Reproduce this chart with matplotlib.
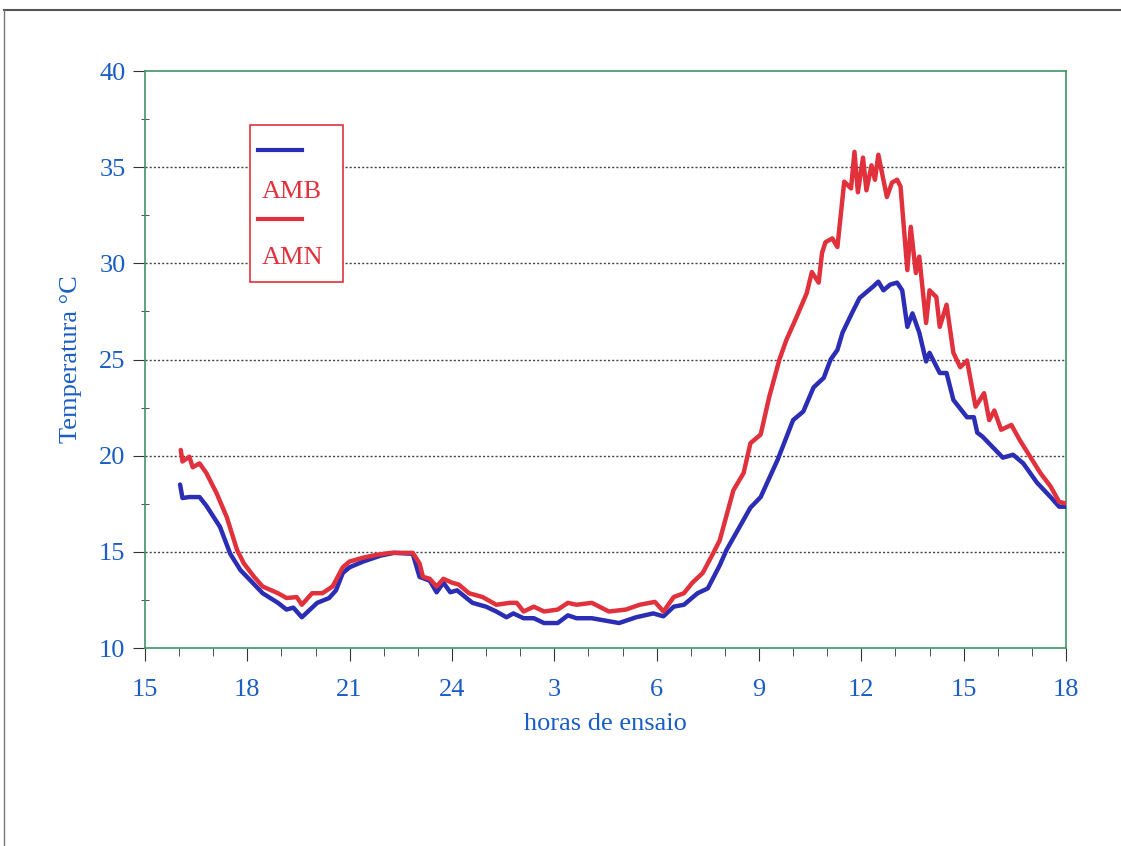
import numpy as np
import matplotlib.pyplot as plt
from matplotlib.lines import Line2D
from matplotlib.patches import Rectangle
from matplotlib.ticker import MultipleLocator

plt.rcParams['font.family'] = ['Liberation Serif', 'DejaVu Serif']

# hours since midnight of first day (15 -> 42 = 18h next day)
hours_amb = [16.03, 16.1, 16.3, 16.6, 16.8, 17.2, 17.5, 17.8, 18.1, 18.45, 18.9, 19.15, 19.35, 19.6,
             20.05, 20.4, 20.6, 20.8, 21.0, 21.4, 21.9, 22.3, 22.85, 23.05, 23.35, 23.55, 23.75, 23.95,
             24.15, 24.6, 25.0, 25.3, 25.6, 25.8, 26.1, 26.4, 26.7, 27.1, 27.4, 27.65, 28.1, 28.9,
             29.4, 29.9, 30.2, 30.5, 30.8, 31.2, 31.5, 31.85, 32.05, 32.75, 33.05, 33.55, 34.0, 34.3,
             34.6, 34.9, 35.1, 35.3, 35.45, 35.75, 35.95, 36.15, 36.35, 36.5, 36.65, 36.85, 37.05,
             37.2, 37.35, 37.5, 37.7, 37.9, 38.0, 38.3, 38.5, 38.7, 39.1, 39.3, 39.4, 39.55, 39.85,
             40.15, 40.45, 40.75, 41.15, 41.55, 41.8, 42.0]
temp_amb = [18.5, 17.8, 17.85, 17.85, 17.4, 16.3, 14.9, 14.05, 13.5, 12.85, 12.35, 12.0, 12.1, 11.6,
            12.35, 12.6, 13.0, 13.9, 14.2, 14.5, 14.8, 14.95, 14.9, 13.7, 13.5, 12.9, 13.4, 12.9,
            13.0, 12.35, 12.15, 11.9, 11.6, 11.8, 11.55, 11.55, 11.3, 11.3, 11.7, 11.55, 11.55, 11.3,
            11.6, 11.8, 11.65, 12.15, 12.25, 12.85, 13.1, 14.3, 15.1, 17.3, 17.85, 19.8, 21.85, 22.3,
            23.55, 24.05, 25.0, 25.5, 26.4, 27.5, 28.2, 28.5, 28.8, 29.05, 28.6, 28.9, 29.0,
            28.6, 26.7, 27.4, 26.4, 24.9, 25.35, 24.3, 24.3, 22.9, 22.0, 22.0, 21.2, 21.0, 20.45,
            19.9, 20.05, 19.6, 18.6, 17.85, 17.35, 17.35]

hours_amn = [16.05, 16.1, 16.3, 16.4, 16.6, 16.8, 17.1, 17.4, 17.7, 17.9, 18.2, 18.45, 18.9, 19.15,
             19.45, 19.6, 19.9, 20.2, 20.5, 20.8, 21.0, 21.4, 21.8, 22.2, 22.85, 23.05, 23.15, 23.35,
             23.55, 23.75, 24.0, 24.2, 24.5, 24.9, 25.3, 25.7, 25.9, 26.1, 26.4, 26.7, 27.1, 27.4,
             27.65, 28.1, 28.6, 29.1, 29.5, 29.95, 30.2, 30.5, 30.8, 31.05, 31.35, 31.65, 31.85,
             32.25, 32.55, 32.75, 33.05, 33.3, 33.6, 33.8, 34.1, 34.4, 34.55, 34.75, 34.85, 34.95,
             35.15, 35.3, 35.5, 35.7, 35.8, 35.9, 36.05, 36.15, 36.3, 36.4, 36.5, 36.75, 36.9, 37.05,
             37.15, 37.35, 37.45, 37.6, 37.7, 37.9, 38.0, 38.2, 38.3, 38.5, 38.7, 38.9, 39.1, 39.35,
             39.6, 39.75, 39.9, 40.1, 40.4, 40.65, 40.95, 41.25, 41.55, 41.8, 42.05]
temp_amn = [20.3, 19.7, 19.95, 19.4, 19.6, 19.1, 18.05, 16.8, 15.1, 14.4, 13.7, 13.2, 12.85, 12.6,
            12.65, 12.25, 12.85, 12.85, 13.2, 14.2, 14.5, 14.7, 14.85, 14.95, 14.95, 14.4, 13.7, 13.6,
            13.2, 13.6, 13.4, 13.3, 12.85, 12.65, 12.25, 12.35, 12.35, 11.9, 12.15, 11.9, 12.0, 12.35,
            12.25, 12.35, 11.9, 12.0, 12.25, 12.4, 11.9, 12.65, 12.85, 13.4, 13.9, 14.9, 15.6,
            18.2, 19.1, 20.65, 21.1, 23.05, 25.0, 26.0, 27.2, 28.45, 29.55, 29.0, 30.55, 31.1,
            31.3, 30.85, 34.25, 33.9, 35.8, 33.7, 35.5, 33.8, 35.1, 34.35, 35.65, 33.45, 34.2, 34.35,
            34.0, 29.65, 31.9, 29.5, 30.35, 26.9, 28.6, 28.25, 26.7, 27.85, 25.35, 24.6, 24.95, 22.55,
            23.25, 21.85, 22.35, 21.35, 21.6, 20.8, 19.95, 19.1, 18.4, 17.6, 17.5]

xtick_pos = [15, 18, 21, 24, 27, 30, 33, 36, 39, 42]
xtick_labels = ['15', '18', '21', '24', '3', '6', '9', '12', '15', '18']

blue = '#2b2db5'
red = '#e0313c'
txt_blue = '#1a5dc4'
green = '#3f9468'

fig = plt.figure(figsize=(11.21, 8.46), dpi=100)
ax = fig.add_axes([0.1293, 0.234, 0.8216, 0.682])

ax.plot(hours_amb, temp_amb, color=blue, lw=3.2, solid_joinstyle='round', solid_capstyle='round', zorder=3)
ax.plot(hours_amn, temp_amn, color=red, lw=3.2, solid_joinstyle='round', solid_capstyle='round', zorder=4)

ax.set_xlim(15, 42)
ax.set_ylim(10, 40)
ax.set_xticks(xtick_pos)
ax.set_xticklabels(xtick_labels)
ax.xaxis.set_minor_locator(MultipleLocator(1))
ax.yaxis.set_major_locator(MultipleLocator(5))
ax.yaxis.set_minor_locator(MultipleLocator(2.5))

for y in [15, 20, 25, 30, 35]:
    ax.axhline(y, color='#444444', lw=1, ls=(0, (1.5, 1.5)), zorder=1)

for s in ax.spines.values():
    s.set_color(green)
    s.set_linewidth(1.2)

ax.tick_params(axis='both', which='major', labelsize=19, labelcolor=txt_blue, color='#333333')
ax.tick_params(axis='x', which='major', direction='out', length=9, pad=13)
ax.tick_params(axis='x', which='minor', direction='out', length=6, color='#333333')
ax.tick_params(axis='y', which='major', direction='out', length=9, pad=5)
ax.tick_params(axis='y', which='minor', direction='inout', length=6, color='#333333')

ax.set_xlabel('horas de ensaio', fontsize=19, color=txt_blue, labelpad=9)
ax.set_ylabel('Temperatura °C', fontsize=19, color=txt_blue, labelpad=12)

# legend box, drawn by hand to mimic the scanned original
ax.add_patch(Rectangle((0.114, 0.634), 0.101, 0.272, transform=ax.transAxes,
                       facecolor='white', edgecolor=red, lw=1.2, zorder=5))
ax.plot([0.123, 0.170], [0.863, 0.863], transform=ax.transAxes, color=blue, lw=3, zorder=6)
ax.text(0.127, 0.790, 'AMB', transform=ax.transAxes, color=red, fontsize=19, va='center', zorder=6)
ax.plot([0.123, 0.170], [0.743, 0.743], transform=ax.transAxes, color=red, lw=3, zorder=6)
ax.text(0.127, 0.676, 'AMN', transform=ax.transAxes, color=red, fontsize=19, va='center', zorder=6)

# scanned page frame
fig.add_artist(Line2D([0.004, 1.0], [0.988, 0.988], color='#555555', lw=1.5))
fig.add_artist(Line2D([0.004, 0.004], [0.0, 0.988], color='#777777', lw=1))

fig.savefig('out.png', dpi=100)
